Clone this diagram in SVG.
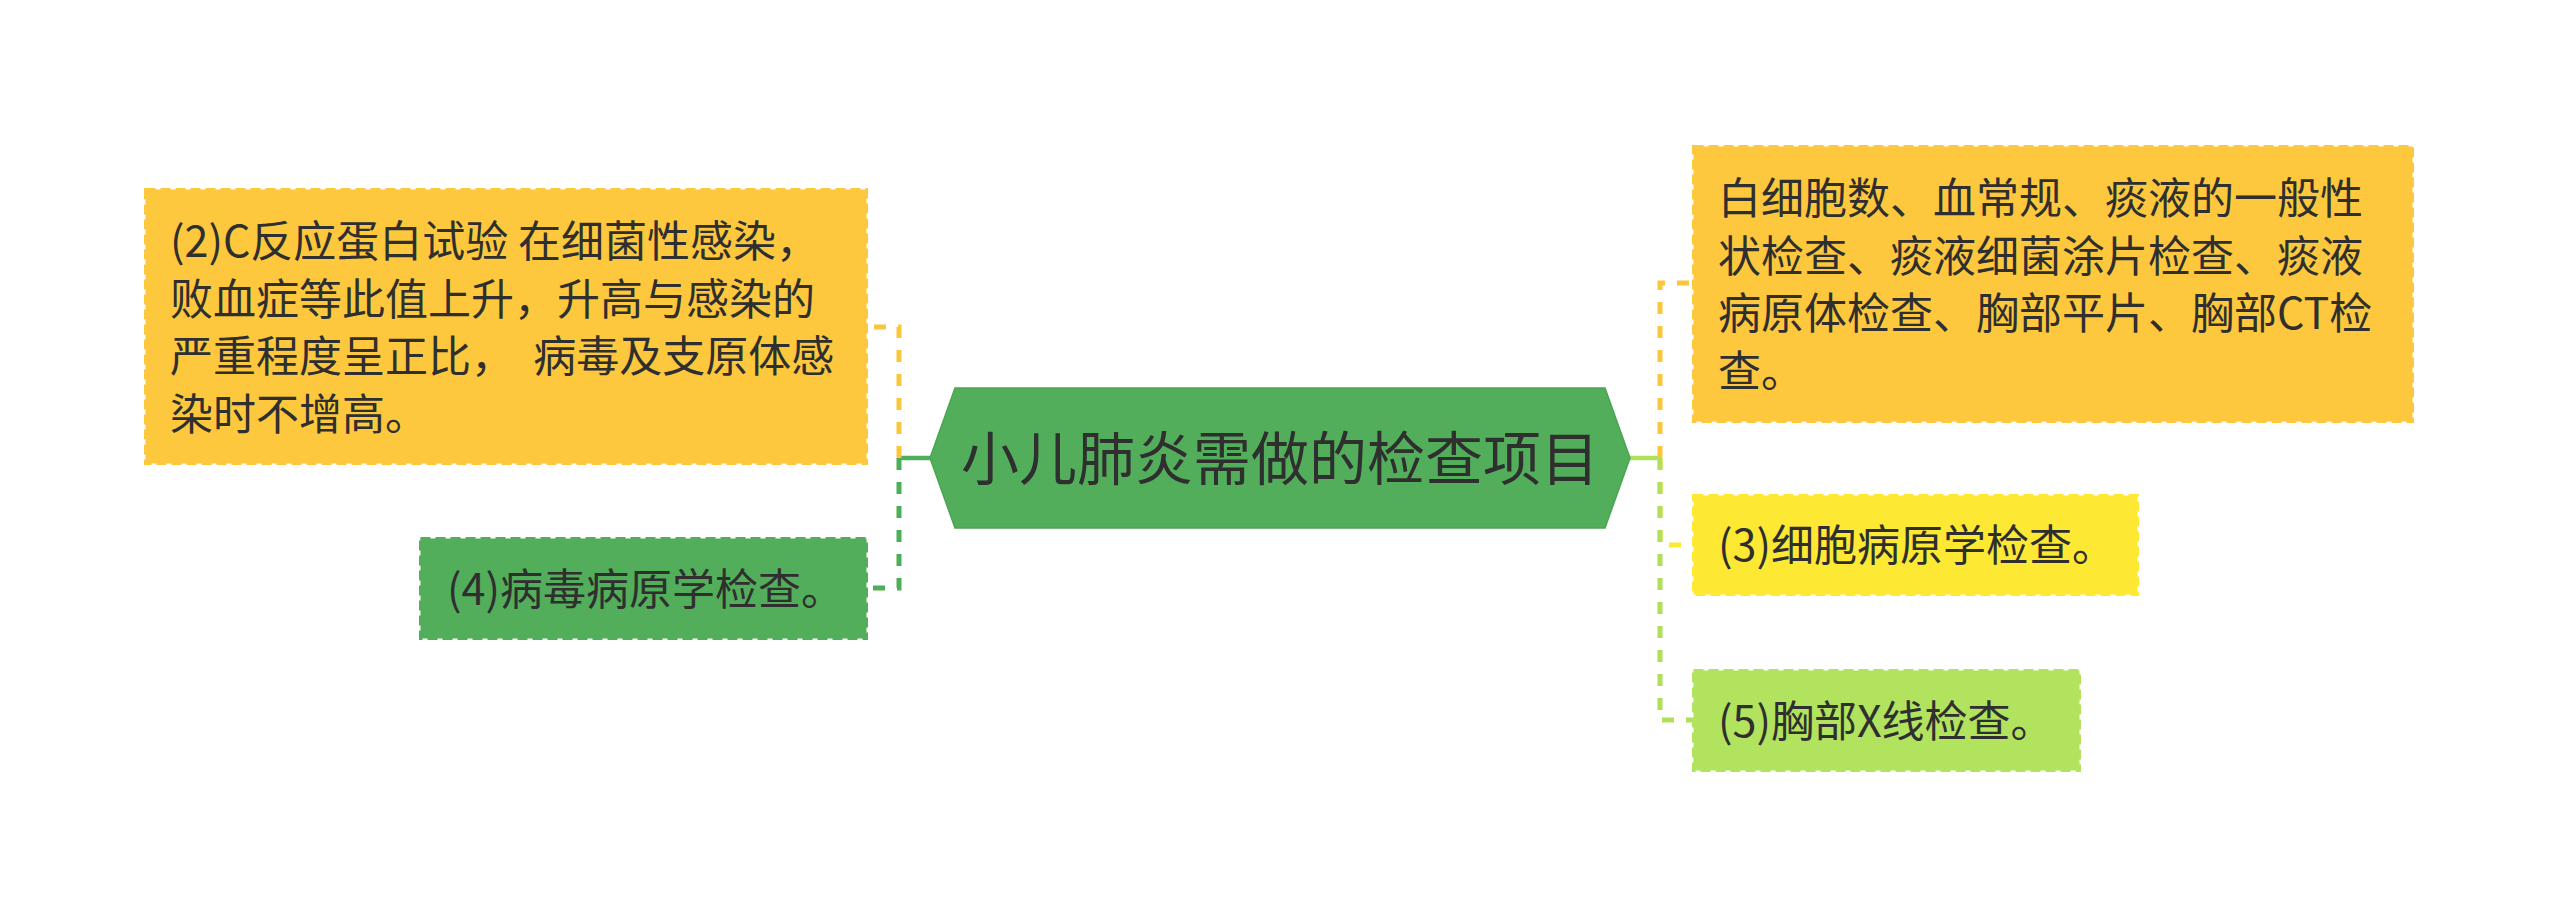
<svg xmlns="http://www.w3.org/2000/svg" width="2560" height="917" viewBox="0 0 2560 917">
  <style>
    .t { font-family: "Noto Sans CJK SC", "Noto Sans", sans-serif; font-size: 43px; fill: #2f2f2f; white-space: pre; }
    .title { font-family: "Noto Sans CJK SC", "Noto Sans", sans-serif; font-size: 58px; fill: #2f2f2f; }
    .box { stroke-width: 3; stroke-dasharray: 10 5; }
    .c { fill: none; stroke-width: 5; stroke-dasharray: 12 12; }
    .solid { fill: none; stroke-width: 4.5; }
  </style>
  <rect x="0" y="0" width="2560" height="917" fill="#ffffff"/>

  <g id="connectors">
    <line class="solid" x1="930" y1="458" x2="899" y2="458" stroke="#4FAE5A"/>
    <path class="c" d="M899,458 V327 H868" stroke="#F9C63C"/>
    <path class="c" d="M899,458 V588 H868" stroke="#4FAE5A"/>
    <line class="solid" x1="1630" y1="458" x2="1660" y2="458" stroke="#AEE05A"/>
    <path class="c" d="M1660,458 V283 H1692" stroke="#F9C63C"/>
    <path class="c" d="M1660,458 V545 H1692" stroke="#FDE934"/>
    <path class="c" d="M1660,458 V720 H1692" stroke="#AEE05A"/>
  </g>

  <g id="center">
    <polygon points="930,458 955,388 1605,388 1630,458 1605,528 955,528" fill="#52AE5A" stroke="#4AA553" stroke-width="1.5"/>
    <text class="title" x="1280" y="480" text-anchor="middle">小儿肺炎需做的检查项目</text>
  </g>

  <g id="node2">
    <rect class="box" x="145.5" y="189.5" width="721" height="274" fill="#FDC83D" stroke="#FDC83D"/>
    <text class="t" x="170" y="257">(2)C反应蛋白试验 在细菌性感染，</text>
    <text class="t" x="170" y="314.5">败血症等此值上升，升高与感染的</text>
    <text class="t" x="170" y="372" xml:space="preserve">严重程度呈正比，  病毒及支原体感</text>
    <text class="t" x="170" y="429.5">染时不增高。</text>
  </g>

  <g id="node4">
    <rect class="box" x="420.5" y="538.5" width="446" height="100" fill="#52AE5A" stroke="#52AE5A"/>
    <text class="t" x="447" y="605">(4)病毒病原学检查。</text>
  </g>

  <g id="node1">
    <rect class="box" x="1693.5" y="146.5" width="719" height="275" fill="#FDC83D" stroke="#FDC83D"/>
    <text class="t" x="1718" y="214">白细胞数、血常规、痰液的一般性</text>
    <text class="t" x="1718" y="271.5">状检查、痰液细菌涂片检查、痰液</text>
    <text class="t" x="1718" y="329">病原体检查、胸部平片、胸部CT检</text>
    <text class="t" x="1718" y="386.5">查。</text>
  </g>

  <g id="node3">
    <rect class="box" x="1693.5" y="495.5" width="444" height="99" fill="#FDE934" stroke="#FDE934"/>
    <text class="t" x="1718" y="561">(3)细胞病原学检查。</text>
  </g>

  <g id="node5">
    <rect class="box" x="1693.5" y="670.5" width="386" height="100" fill="#B1E35E" stroke="#B1E35E"/>
    <text class="t" x="1718" y="737">(5)胸部X线检查。</text>
  </g>
</svg>
